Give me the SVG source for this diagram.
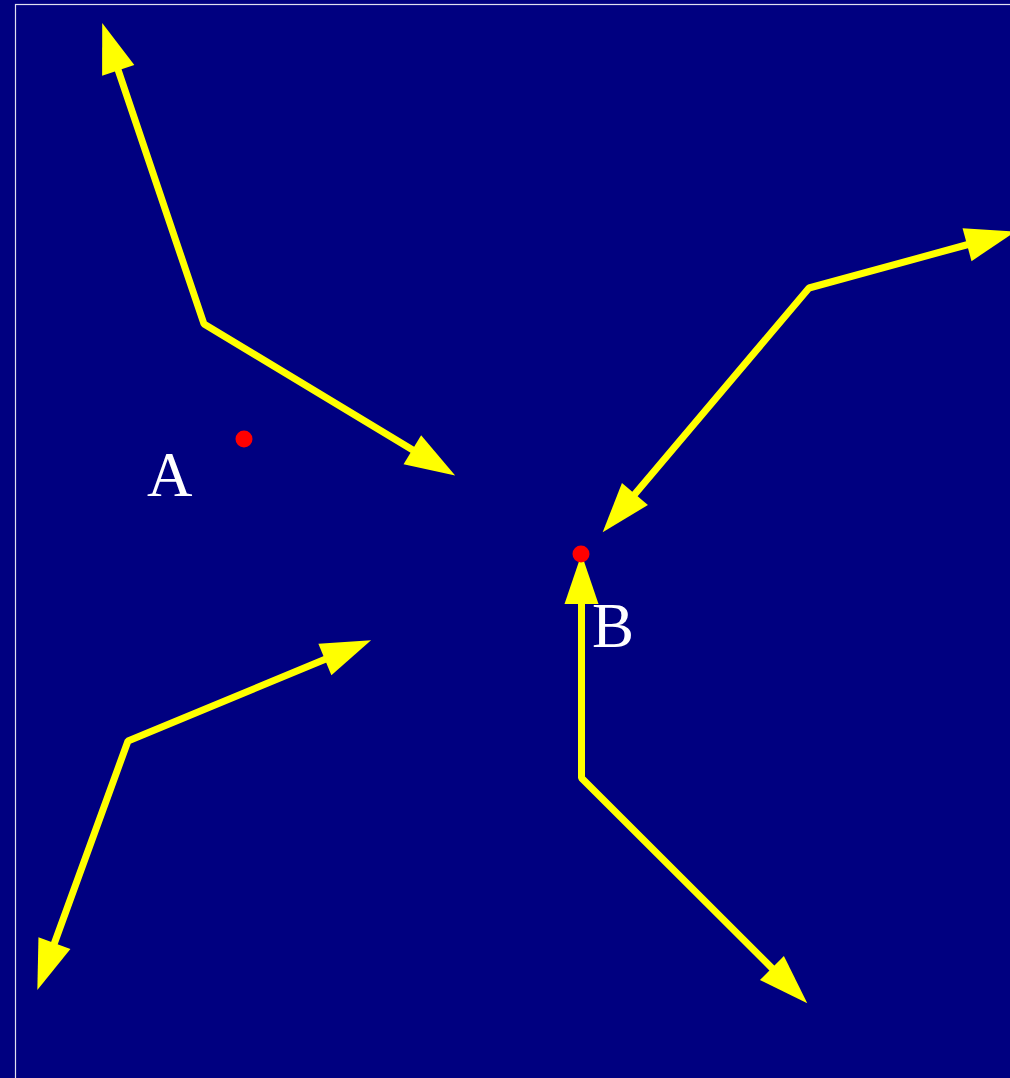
<svg xmlns="http://www.w3.org/2000/svg" width="1010" height="1078" viewBox="0 0 1010 1078">
  <defs>
    <marker id="head" viewBox="0 -17 50 34" refX="1" refY="0" markerWidth="50" markerHeight="34" markerUnits="userSpaceOnUse" orient="auto-start-reverse" overflow="visible">
      <path d="M0,-17 L50,0 L0,17 Z" fill="#ffff00"/>
    </marker>
  </defs>
  <style>
    .conn { fill: none; stroke: #ffff00; stroke-width: 7; stroke-linejoin: bevel; marker-start: url(#head); marker-end: url(#head); }
    .dot { fill: #ff0000; }
    .lbl { font-family: "Liberation Serif", "Times New Roman", serif; font-size: 63px; fill: #ffffff; }
  </style>
  <rect x="0" y="0" width="1010" height="1078" fill="#000080"/>
  <rect x="15.5" y="4.5" width="1100" height="1100" fill="none" stroke="#e0e0f0" stroke-width="1.2"/>
  <g id="connectors">
    <polyline class="conn" points="117.9,69.4 204,324 413.2,450.2"/>
    <polyline class="conn" points="968,244.5 809,288 634.3,494.8"/>
    <polyline class="conn" points="325.8,659.1 128,741 54.1,944"/>
    <polyline class="conn" points="581.5,603 581.5,778 772.6,968.7"/>
  </g>
  <g id="pointA">
    <circle class="dot" cx="244" cy="439" r="8.5"/>
    <text class="lbl" x="147" y="496">A</text>
  </g>
  <g id="pointB">
    <circle class="dot" cx="581" cy="554" r="8.5"/>
    <text class="lbl" x="592" y="647">B</text>
  </g>
</svg>
